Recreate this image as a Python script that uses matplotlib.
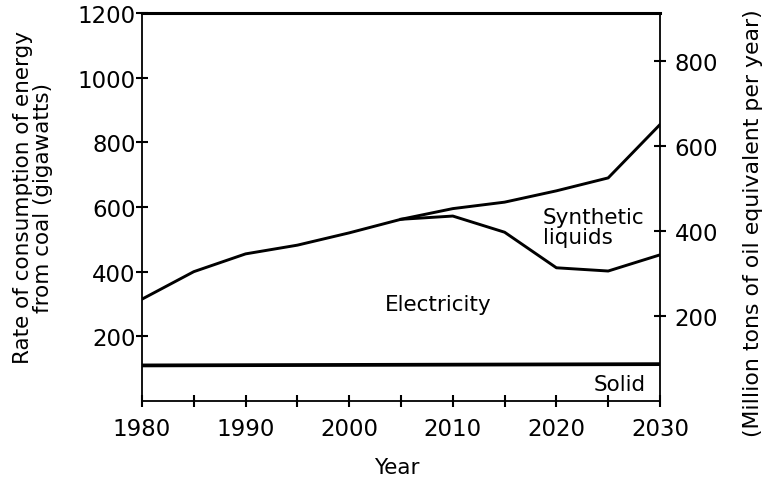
import numpy as np
import matplotlib.pyplot as plt

plt.rcParams['font.family'] = ['DejaVu Sans']

# valores
anos = [1980, 1985, 1990, 1995, 2000, 2005, 2010, 2015, 2020, 2025, 2030]
total = [315, 400, 455, 482, 520, 562, 595, 615, 650, 690, 855]

anos_elet = [2005, 2010, 2015, 2020, 2025, 2030]
eletricidade = [562, 572, 522, 412, 402, 452]

anos_solido = [1980, 2030]
solido = [110, 114]

ticks_gw = [200, 400, 600, 800, 1000, 1200]
ticks_mtep = [200, 400, 600, 800]

fig = plt.figure(figsize=(7.67, 4.81), dpi=100)
ax = fig.add_axes([142/767, 1 - 402/481, 518/767, 388/481])

ax.plot(anos, total, color='black', lw=2.1)
ax.plot(anos_elet, eletricidade, color='black', lw=2.1)
ax.plot(anos_solido, solido, color='black', lw=2.7)

ax.set_xlim(1980, 2030)
ax.set_ylim(0, 1200)
ax.set_xticks(np.arange(1980, 2031, 5))
ax.set_xticklabels([str(a) if a % 10 == 0 else '' for a in range(1980, 2031, 5)])
ax.set_yticks(ticks_gw)
ax.tick_params(direction='inout', length=9, width=1.5, labelsize=16.5)
ax.tick_params(axis='x', pad=7)
ax.tick_params(axis='y', pad=0)

for lado in ['left', 'right', 'bottom']:
    ax.spines[lado].set_linewidth(1.3)
ax.spines['top'].set_linewidth(2.2)

ax.set_xlabel('Year', fontsize=15.5, va='center')
ax.xaxis.set_label_coords(0.492, -0.170)
ax.set_ylabel('Rate of consumption of energy\nfrom coal (gigawatts)', fontsize=15.5,
              linespacing=1.0, va='center')
ax.yaxis.set_label_coords(-0.210, 0.526)

ax2 = ax.twinx()
ax2.set_ylim(0, 913)
ax2.set_yticks(ticks_mtep)
ax2.tick_params(direction='inout', length=9, width=1.5, labelsize=16.5, pad=6)
ax2.set_ylabel('(Million tons of oil equivalent per year)', fontsize=15.8, va='center')
ax2.yaxis.set_label_coords(1.18, 0.461)
for lado in ['left', 'right', 'bottom', 'top']:
    ax2.spines[lado].set_visible(False)

ax.text(2008.6, 300, 'Electricity', fontsize=15.5, ha='center', va='center')
ax.text(2018.7, 538, 'Synthetic\nliquids', fontsize=15.5, ha='left', va='center', linespacing=1.0)
ax.text(2028.6, 53, 'Solid', fontsize=15.5, ha='right', va='center')

fig.savefig('out.png', dpi=100)
